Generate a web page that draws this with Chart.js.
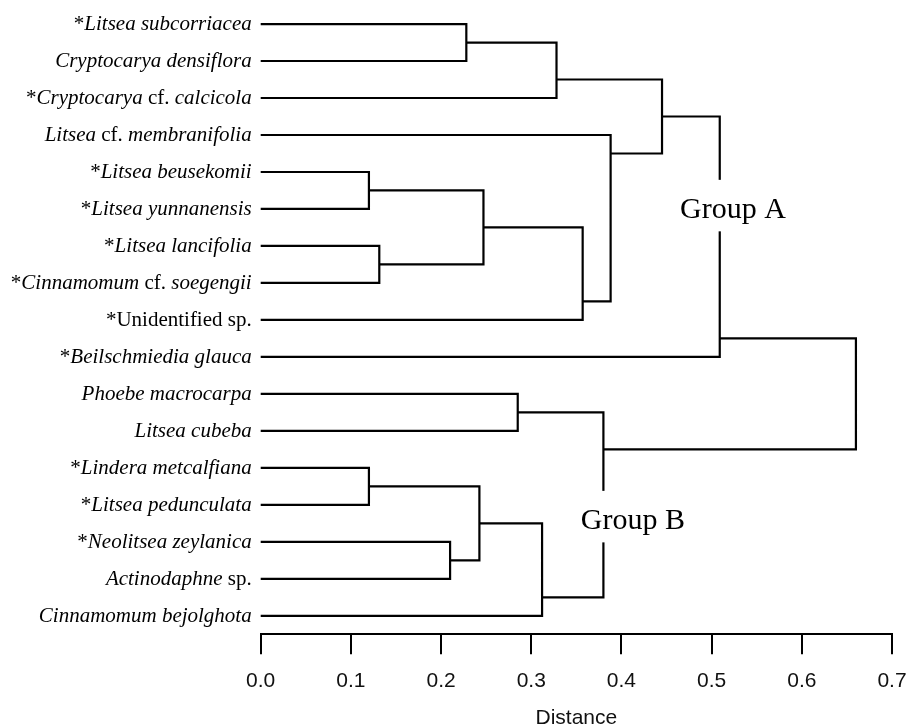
<!DOCTYPE html>
<html lang="en">
<head>
<meta charset="utf-8">
<title>Dendrogram</title>
<script src="https://cdn.jsdelivr.net/npm/chart.js@4.4.0/dist/chart.umd.min.js"></script>
<style>
  html, body { margin: 0; padding: 0; background: #fff; }
  .box { width: 909px; height: 728px; position: relative; }
</style>
</head>
<body>
<div class="box">
  <canvas id="tree"></canvas>
</div>

<script>
// leaves, top to bottom. text between _ _ is italic
var leafNames = [
  '*_Litsea subcorriacea_',
  '_Cryptocarya densiflora_',
  '*_Cryptocarya_ cf. _calcicola_',
  '_Litsea_ cf. _membranifolia_',
  '*_Litsea beusekomii_',
  '*_Litsea yunnanensis_',
  '*_Litsea lancifolia_',
  '*_Cinnamomum_ cf. _soegengii_',
  '*Unidentified sp.',
  '*_Beilschmiedia glauca_',
  '_Phoebe macrocarpa_',
  '_Litsea cubeba_',
  '*_Lindera metcalfiana_',
  '*_Litsea pedunculata_',
  '*_Neolitsea zeylanica_',
  '_Actinodaphne_ sp.',
  '_Cinnamomum bejolghota_'
];

// merges: node ids 0..16 are leaves, merge m creates node 17+m
var mergeLeft     = [0, 17, 4, 6, 19, 21, 3, 18, 24, 10, 12, 14, 27, 29, 26, 25];
var mergeRight    = [1, 2, 5, 7, 20, 8, 22, 23, 9, 11, 13, 15, 28, 16, 30, 31];
var mergeDistance = [0.228, 0.328, 0.120, 0.1315, 0.247, 0.357, 0.388, 0.445, 0.509,
                     0.285, 0.120, 0.210, 0.2425, 0.312, 0.380, 0.660];
// row where each merged node's branch leaves it (as drawn in the figure)
var mergeRow      = [0.5, 1.5, 4.5, 6.5, 5.5, 7.5, 3.5, 2.5, 8.5,
                     10.5, 12.5, 14.5, 13.5, 15.5, 11.5, 9.5];
var rootEnd = 0.7;

var xTicks = [0, 0.1, 0.2, 0.3, 0.4, 0.5, 0.6, 0.7];

var groupNames = ['Group A', 'Group B'];

// build the elbow lines
var nodeDist = [], nodeRow = [];
for (var i = 0; i < leafNames.length; i++) { nodeDist.push(0); nodeRow.push(i); }
for (var m = 0; m < mergeDistance.length; m++) { nodeDist.push(mergeDistance[m]); nodeRow.push(mergeRow[m]); }

var pts = [];
for (var m = 0; m < mergeDistance.length; m++) {
  var a = mergeLeft[m], b = mergeRight[m], h = mergeDistance[m];
  pts.push({x: nodeDist[a], y: nodeRow[a]});
  pts.push({x: h, y: nodeRow[a]});
  pts.push({x: h, y: nodeRow[b]});
  pts.push({x: nodeDist[b], y: nodeRow[b]});
  pts.push({x: null, y: null});
}
var top = nodeDist.length - 1;
pts.push({x: nodeDist[top], y: nodeRow[top]});
pts.push({x: rootEnd, y: nodeRow[top]});

var groupPos = [
  {x: 0.465, row: 5.24},
  {x: 0.355, row: 13.65}
];

var labelPlugin = {
  id: 'labels',
  afterDatasetsDraw: function(chart) {
    var ctx = chart.ctx;
    var xs = chart.scales.x, ys = chart.scales.y;
    ctx.save();
    ctx.fillStyle = '#000';
    ctx.textBaseline = 'alphabetic';
    var right = xs.getPixelForValue(0) - 9;
    leafNames.forEach(function(name, idx) {
      var parts = name.split('_');
      var y = ys.getPixelForValue(idx) + 6;
      var x = right;
      for (var p = parts.length - 1; p >= 0; p--) {
        if (!parts[p]) continue;
        ctx.font = (p % 2 ? 'italic ' : '') + '21px "Liberation Serif"';
        var w = ctx.measureText(parts[p]).width;
        x -= w;
        ctx.fillText(parts[p], x, y);
      }
    });

    ctx.font = '30px "Liberation Serif"';
    groupNames.forEach(function(txt, g) {
      var gx = xs.getPixelForValue(groupPos[g].x);
      var gy = ys.getPixelForValue(groupPos[g].row);
      var w = ctx.measureText(txt).width;
      ctx.fillStyle = '#fff';
      ctx.fillRect(gx - 2, gy - 38, w + 4, 51.5);
      ctx.fillStyle = '#000';
      ctx.fillText(txt, gx, gy);
    });
    ctx.restore();
  }
};

var config = {
  type: 'scatter',
  data: {
    datasets: [{
      data: pts,
      showLine: true,
      spanGaps: false,
      borderColor: '#000',
      borderWidth: 2.2,
      borderJoinStyle: 'miter',
      pointRadius: 0,
      tension: 0,
      clip: false
    }]
  },
  options: {
    responsive: true,
    maintainAspectRatio: false,
    animation: false,
    layout: { padding: { left: 260.7, right: 17, top: 0, bottom: 0 } },
    plugins: { legend: { display: false }, tooltip: { enabled: false } },
    scales: {
      x: {
        type: 'linear',
        min: 0,
        max: 0.7,
        afterBuildTicks: function(scale) {
          scale.ticks = xTicks.map(function(v) { return {value: v}; });
        },
        afterFit: function(scale) {
          // don't let the end labels push the plot area inwards
          scale.paddingLeft = 0;
          scale.paddingRight = 0;
        },
        grid: { drawOnChartArea: false, drawTicks: true, tickLength: 20, color: '#000', lineWidth: 2 },
        border: { display: true, color: '#000', width: 2 },
        ticks: {
          padding: 14.6,
          color: '#111',
          font: { family: '"Liberation Sans"', size: 21, lineHeight: 1.2 },
          maxRotation: 0,
          callback: function(v) { return v.toFixed(1); }
        },
        title: {
          display: true,
          text: 'Distance',
          color: '#111',
          padding: 0,
          font: { family: '"Liberation Sans"', size: 21, lineHeight: 0.92 }
        }
      },
      y: {
        type: 'linear',
        display: false,
        reverse: true,
        min: -0.65,
        max: 16.5
      }
    }
  },
  plugins: [labelPlugin]
};

window.onload = function() {
  var ctx = document.getElementById('tree').getContext('2d');
  window.myTree = new Chart(ctx, config);
};
</script>
</body>
</html>
